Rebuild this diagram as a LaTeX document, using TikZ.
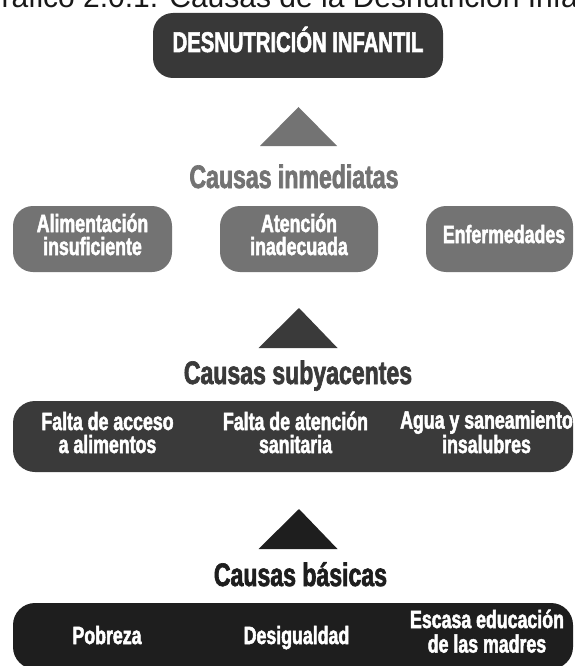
\documentclass[tikz,border=0pt]{standalone}
\usepackage{fontspec}
\usepackage{xcolor}
\setmainfont{Liberation Sans}
\newfontfamily\condfont[FakeStretch=0.71,FakeBold=2]{Liberation Sans}
\usetikzlibrary{positioning}

\definecolor{cabeza}{HTML}{383838}
\definecolor{inmediata}{HTML}{737373}
\definecolor{subyacente}{HTML}{3A3A3A}
\definecolor{basica}{HTML}{1E1E1E}

\tikzset{
	caja/.style={rounded corners=20pt, inner sep=0pt},
	texto/.style={text=white, font=\condfont\bfseries\fontsize{25}{23}\selectfont, align=center, inner sep=0pt, anchor=base},
	nivel/.style={font=\condfont\bfseries\fontsize{32.5}{32.5}\selectfont, inner sep=0pt, anchor=base},
	titulo/.style={font=\fontsize{30}{30}\selectfont, text=black!90, inner sep=0pt, anchor=base west}
}

\begin{document}
\begin{tikzpicture}[x=1pt,y=-1pt]
	\useasboundingbox (0,0) rectangle (575,666);
	\fill[white] (0,0) rectangle (575,666);
	\clip (0,0) rectangle (575,666);

	\node[titulo] (G) at (-22,7.5) {Gráfico 2.0.1. Causas de la Desnutrición Infantil};

	\node[caja, fill=cabeza, minimum width=290pt, minimum height=65pt] (D) at (298,45.5) {};
	\node[texto, font=\condfont\bfseries\fontsize{28.5}{28.5}\selectfont] (tD) at (D |- 0,52) {DESNUTRICIÓN INFANTIL};

	\fill[inmediata] (260,146) -- (298.5,107) -- (337,146) -- cycle;
	\node[nivel, text=inmediata] (N1) at (294,188) {Causas inmediatas};

	\node[caja, fill=inmediata, minimum width=159pt, minimum height=66pt] (A1) at (92.5,239) {};
	\node[caja, fill=inmediata, minimum width=158pt, minimum height=66pt] (A2) at (299,239) {};
	\node[caja, fill=inmediata, minimum width=147pt, minimum height=66pt] (A3) at (499.5,239) {};
	\node[texto] (tA1) at (A1 |- 0,255) {Alimentación\\insuficiente};
	\node[texto] (tA2) at (A2 |- 0,255) {Atención\\inadecuada};
	\node[texto] (tA3) at (504,243) {Enfermedades};

	\fill[subyacente] (258.5,348) -- (299,308) -- (337.5,348) -- cycle;
	\node[nivel, text=subyacente] (N2) at (298,384) {Causas subyacentes};

	\node[caja, fill=subyacente, rounded corners=22pt, minimum width=560pt, minimum height=71pt] (S) at (293,436.5) {};
	\node[texto] (tS1) at (107.5,453) {Falta de acceso\\a alimentos};
	\node[texto] (tS2) at (295.5,453) {Falta de atención\\sanitaria};
	\node[texto] (tS3) at (486.5,453) {Agua y saneamiento\\insalubres};

	\fill[basica] (258.5,549) -- (299,509) -- (337.5,549) -- cycle;
	\node[nivel, text=basica] (N3) at (300.5,586) {Causas básicas};

	\node[caja, fill=basica, rounded corners=22pt, minimum width=560pt, minimum height=66pt] (B) at (293,636) {};
	\node[texto] (tB1) at (107,644) {Pobreza};
	\node[texto] (tB2) at (296.5,644) {Desigualdad};
	\node[texto, font=\condfont\bfseries\fontsize{25}{24.5}\selectfont] (tB3) at (487,652.5) {Escasa educación\\de las madres};
\end{tikzpicture}
\end{document}
